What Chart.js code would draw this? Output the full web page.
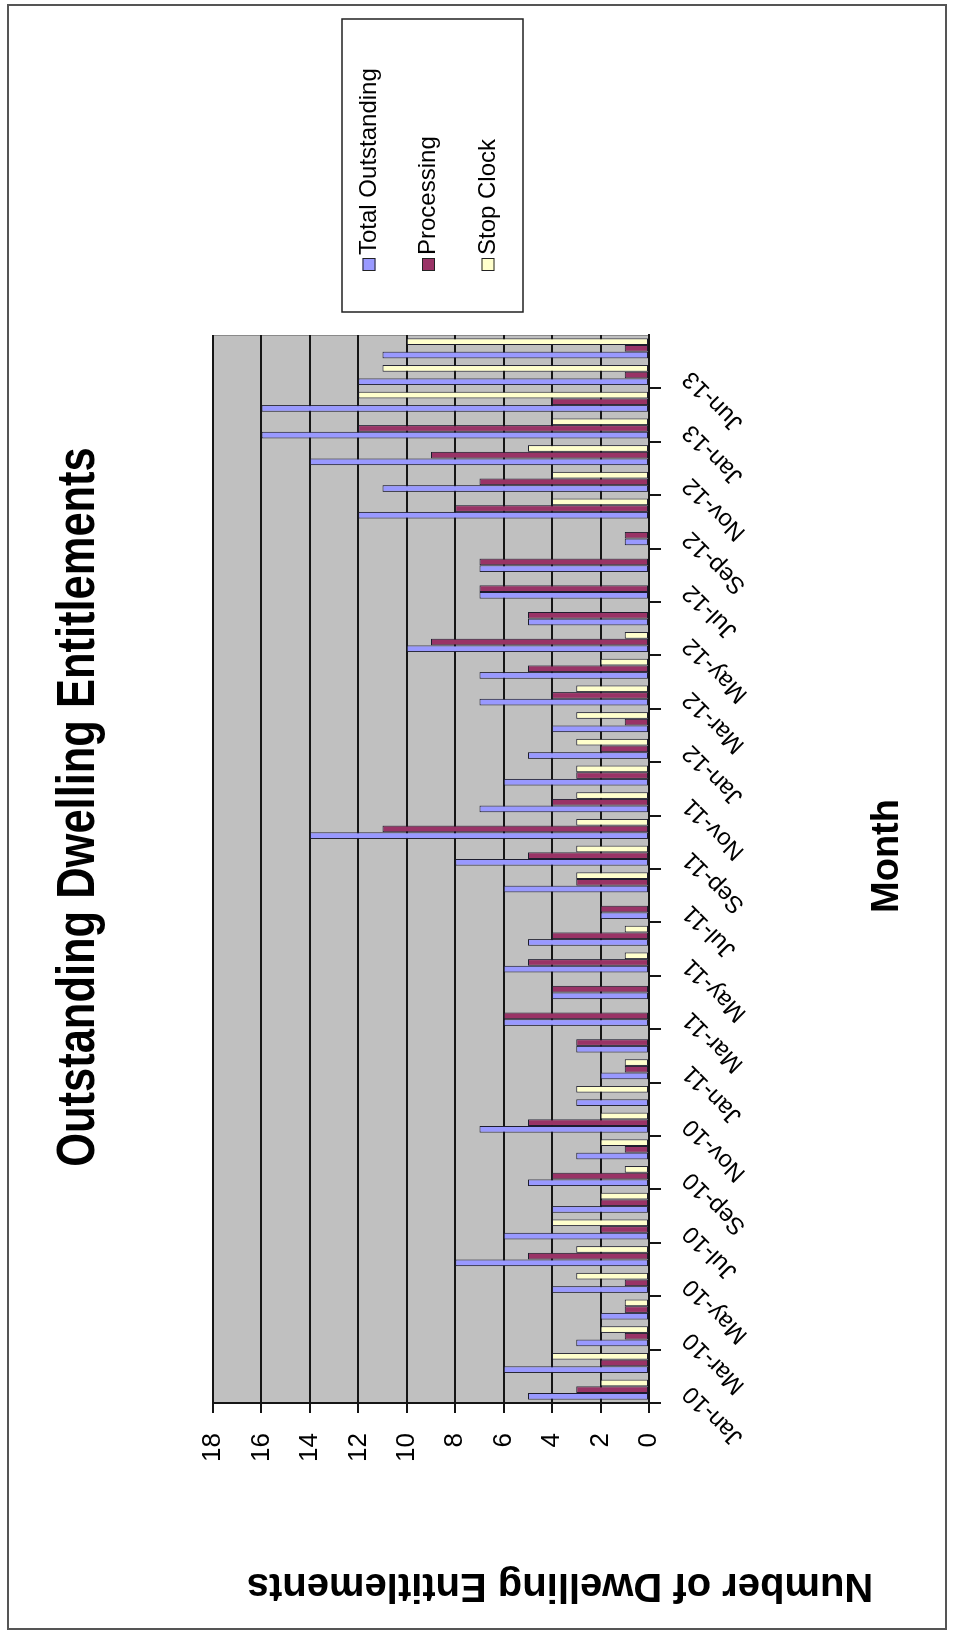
<!DOCTYPE html>
<html>
<head>
<meta charset="utf-8">
<title>Outstanding Dwelling Entitlements</title>
<script src="https://cdn.jsdelivr.net/npm/chart.js@4/dist/chart.umd.min.js"></script>
<style>
  html, body { margin: 0; padding: 0; background: #ffffff; }
  body { width: 954px; height: 1635px; overflow: hidden; position: relative; }
  /* the chart is laid out landscape and turned a quarter turn anticlockwise */
  #wrap {
    position: absolute; left: 0; top: 0;
    width: 1635px; height: 954px;
    transform-origin: 0 0;
    transform: translate(0px, 1635px) rotate(-90deg);
  }
  canvas { display: block; }
</style>
</head>
<body>
<div id="wrap"><canvas id="chart" width="1635" height="954"></canvas></div>
<script>
// Monthly counts of outstanding dwelling entitlements
const months = [
  'Jan-10','Feb-10','Mar-10','Apr-10','May-10','Jun-10','Jul-10','Aug-10','Sep-10','Oct-10','Nov-10','Dec-10',
  'Jan-11','Feb-11','Mar-11','Apr-11','May-11','Jun-11','Jul-11','Aug-11','Sep-11','Oct-11','Nov-11','Dec-11',
  'Jan-12','Feb-12','Mar-12','Apr-12','May-12','Jun-12','Jul-12','Aug-12','Sep-12','Oct-12','Nov-12','Dec-12',
  'Jan-13','May-13','Jun-13','Jul-13'
];
const totalOutstanding = [5,6,3,2,4,8,6,4,5,3,7,3,2,3,6,4,6,5,2,6,8,14,7,6,5,4,7,7,10,5,7,7,1,12,11,14,16,16,12,11];
const processing       = [3,2,1,1,1,5,2,2,4,1,5,0,1,3,6,4,5,4,2,3,5,11,4,3,2,1,4,5,9,5,7,7,1,8,7,9,12,4,1,1];
const stopClock        = [2,4,2,1,3,3,4,2,1,2,2,3,1,0,0,0,1,1,0,3,3,3,3,3,3,3,3,2,1,0,0,0,0,4,4,5,4,12,11,10];
const valueTicks = [0, 2, 4, 6, 8, 10, 12, 14, 16, 18];

const chartTitle = 'Outstanding Dwelling Entitlements';
const xAxisTitle = 'Month';
const yAxisTitle = 'Number of Dwelling Entitlements';

const SANS = "'Liberation Sans', Arial, sans-serif";
const LINE = '#151515';

// white page, outer frame and grey plot area
const backdrop = {
  id: 'backdrop',
  beforeDraw(chart) {
    const { ctx, width, height, chartArea: a } = chart;
    ctx.save();
    ctx.fillStyle = '#ffffff';
    ctx.fillRect(0, 0, width, height);
    ctx.strokeStyle = '#555555';
    ctx.lineWidth = 2;
    ctx.strokeRect(6, 8, 1624, 938);
    ctx.fillStyle = '#c0c0c0';
    ctx.fillRect(a.left, a.top, a.width, a.height);
    ctx.strokeStyle = '#8a8a8a';
    ctx.lineWidth = 1;
    ctx.strokeRect(a.left + 0.5, a.top + 0.5, a.width - 1, a.height - 1);
    ctx.restore();
  }
};

// chart title (narrow bold), axis titles and the boxed legend
const extras = {
  id: 'extras',
  afterDraw(chart) {
    const { ctx } = chart;

    ctx.save();
    ctx.fillStyle = '#000';
    ctx.font = "bold 53px " + SANS;
    ctx.textAlign = 'center';
    ctx.textBaseline = 'alphabetic';
    ctx.translate(828, 94);
    ctx.scale(0.82, 1);
    ctx.fillText(chartTitle, 0, 0);
    ctx.restore();

    ctx.save();
    ctx.fillStyle = '#000';
    ctx.font = "bold 38px " + SANS;
    ctx.textAlign = 'center';
    ctx.textBaseline = 'alphabetic';
    ctx.fillText(xAxisTitle, 779, 898);
    ctx.restore();

    ctx.save();
    ctx.fillStyle = '#000';
    ctx.font = "bold 40px " + SANS;
    ctx.textAlign = 'center';
    ctx.textBaseline = 'middle';
    ctx.translate(50, 560);
    ctx.rotate(-Math.PI / 2);
    ctx.fillText(yAxisTitle, 0, 0);
    ctx.restore();

    const box = { x: 1323, y: 342, w: 293, h: 181 };
    ctx.save();
    ctx.fillStyle = '#ffffff';
    ctx.fillRect(box.x, box.y, box.w, box.h);
    ctx.strokeStyle = '#222';
    ctx.lineWidth = 1.5;
    ctx.strokeRect(box.x, box.y, box.w, box.h);
    ctx.font = "24px " + SANS;
    ctx.textAlign = 'left';
    ctx.textBaseline = 'middle';
    chart.data.datasets.forEach((ds, i) => {
      const cy = box.y + 27 + i * 59.5;
      ctx.fillStyle = ds.backgroundColor;
      ctx.fillRect(1364, cy - 6.5, 13, 13);
      ctx.strokeStyle = '#222';
      ctx.lineWidth = 1;
      ctx.strokeRect(1364.5, cy - 6, 12, 12);
      ctx.fillStyle = '#000';
      ctx.fillText(ds.label, 1380, cy);
    });
    ctx.restore();
  }
};

new Chart(document.getElementById('chart'), {
  type: 'bar',
  data: {
    labels: months,
    datasets: [
      { label: 'Total Outstanding', data: totalOutstanding, backgroundColor: '#9999ff' },
      { label: 'Processing', data: processing, backgroundColor: '#993366' },
      { label: 'Stop Clock', data: stopClock, backgroundColor: '#ffffcc' }
    ]
  },
  options: {
    responsive: false,
    animation: false,
    devicePixelRatio: 1,
    categoryPercentage: 0.75,
    barPercentage: 1.0,
    datasets: {
      bar: { borderColor: '#1c1c2c', borderWidth: 1, borderSkipped: false }
    },
    layout: { padding: { top: 213, right: 335, bottom: 0, left: 0 } },
    plugins: {
      legend: { display: false },
      tooltip: { enabled: false },
      title: { display: false }
    },
    scales: {
      x: {
        grid: {
          display: true,
          offset: true,
          drawOnChartArea: false,
          drawTicks: true,
          tickLength: 12,
          lineWidth: 2,
          color: (c) => (c.index % 2 === 0 ? LINE : 'rgba(0,0,0,0)')
        },
        border: { display: true, color: LINE, width: 2 },
        ticks: {
          autoSkip: false,
          minRotation: 45,
          maxRotation: 45,
          padding: 16,
          color: '#000',
          font: { family: SANS, size: 24 },
          callback: function (v, i) { return i % 2 === 0 ? this.getLabelForValue(v) : ''; }
        },
        afterFit(s) { s.height = 305; }
      },
      y: {
        min: valueTicks[0],
        max: valueTicks[valueTicks.length - 1],
        grid: { color: LINE, lineWidth: 2, tickLength: 10, drawTicks: true },
        border: { display: true, color: LINE, width: 2 },
        ticks: {
          stepSize: valueTicks[1] - valueTicks[0],
          padding: 20,
          color: '#000',
          font: { family: SANS, size: 26 }
        },
        afterFit(s) { s.width = 232; }
      }
    }
  },
  plugins: [backdrop, extras]
});
</script>
</body>
</html>
